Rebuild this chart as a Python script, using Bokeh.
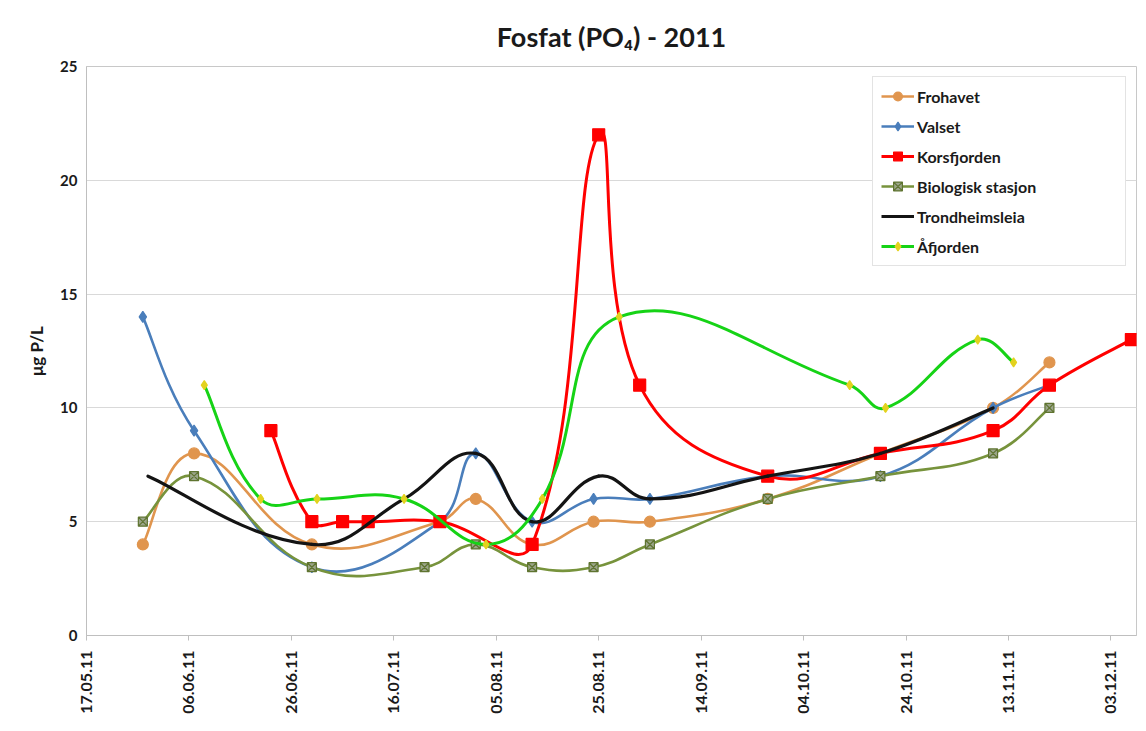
import numpy as np
import pandas as pd
from bokeh.plotting import figure
from bokeh.models import (FixedTicker, DatetimeTickFormatter, Legend, LegendItem,
                          Range1d, ColumnDataSource)
from bokeh.embed import file_html
from bokeh.resources import INLINE

# ---------------- data ----------------
TITLE = "Fosfat (PO₄) - 2011"
Y_LABEL = "μg P/L"
x_tick_dates = ["2011-05-17", "2011-06-06", "2011-06-26", "2011-07-16", "2011-08-05",
                "2011-08-25", "2011-09-14", "2011-10-04", "2011-10-24", "2011-11-13",
                "2011-12-03"]
x_axis_start = "2011-05-17"
x_axis_end = "2011-12-08"
y_ticks = [0, 5, 10, 15, 20, 25]

series_names = ["Frohavet", "Valset", "Korsfjorden", "Biologisk stasjon",
                "Trondheimsleia", "Åfjorden"]

frohavet_dates = ["2011-05-28", "2011-06-07", "2011-06-30", "2011-07-25", "2011-08-01",
                  "2011-08-12", "2011-08-24", "2011-09-04", "2011-09-27", "2011-10-19",
                  "2011-11-10", "2011-11-21"]
frohavet_vals = [4, 8, 4, 5, 6, 4, 5, 5, 6, 8, 10, 12]

valset_dates = ["2011-05-28", "2011-06-07", "2011-06-30", "2011-07-25", "2011-08-01",
                "2011-08-12", "2011-08-24", "2011-09-04", "2011-09-27", "2011-10-19",
                "2011-11-10", "2011-11-21"]
valset_vals = [14, 9, 3, 5, 8, 5, 6, 6, 7, 7, 10, 11]

korsfjorden_dates = ["2011-06-22", "2011-06-30", "2011-07-06", "2011-07-11", "2011-07-25",
                     "2011-08-12", "2011-08-25", "2011-09-02", "2011-09-27", "2011-10-19",
                     "2011-11-10", "2011-11-21", "2011-12-07"]
korsfjorden_vals = [9, 5, 5, 5, 5, 4, 22, 11, 7, 8, 9, 11, 13]

biologisk_dates = ["2011-05-28", "2011-06-07", "2011-06-30", "2011-07-22", "2011-08-01",
                   "2011-08-12", "2011-08-24", "2011-09-04", "2011-09-27", "2011-10-19",
                   "2011-11-10", "2011-11-21"]
biologisk_vals = [5, 7, 3, 3, 4, 3, 3, 4, 6, 7, 8, 10]

trondheimsleia_dates = ["2011-05-29", "2011-06-30", "2011-07-18", "2011-08-01", "2011-08-12",
                        "2011-08-25", "2011-09-04", "2011-09-27", "2011-10-19", "2011-11-10"]
trondheimsleia_vals = [7, 4, 6, 8, 5, 7, 6, 7, 8, 10]

afjorden_dates = ["2011-06-09", "2011-06-20", "2011-07-01", "2011-07-18", "2011-08-03",
                  "2011-08-14", "2011-08-29", "2011-10-13", "2011-10-20", "2011-11-07",
                  "2011-11-14"]
afjorden_vals = [11, 6, 6, 6, 4, 6, 14, 11, 10, 13, 12]

# ---------------- styles ----------------
styles = {
    "Frohavet": dict(line="#E0954E", marker="circle", size=11, fill="#E0954E", mline="#E0954E", lw=2.6),
    "Valset": dict(line="#4A7EBB", marker="diamond", size=11, fill="#4A7EBB", mline="#4A7EBB", lw=2.6),
    "Korsfjorden": dict(line="#FF0000", marker="square", size=12, fill="#FF0000", mline="#FF0000", lw=3),
    "Biologisk stasjon": dict(line="#77933C", marker="square_x", size=9, fill="#9BA58A", mline="#5F7430", lw=2.6),
    "Trondheimsleia": dict(line="#141414", marker=None, size=0, fill=None, mline=None, lw=3.2),
    "Åfjorden": dict(line="#16D316", marker="diamond", size=9, fill="#E3D21E", mline="#E3D21E", lw=3),
}

W, H = 1138, 728
ML, MR, MT, MB = 86, 2, 66, 93
FW, FH = W - ML - MR, H - MT - MB


def ms(d):
    return pd.Timestamp(d).value / 1e6


x0, x1 = ms(x_axis_start), ms(x_axis_end)
y0, y1 = y_ticks[0], y_ticks[-1]
kx = FW / (x1 - x0)
ky = FH / (y1 - y0)


def smooth(xs, ys, t=0.42):
    """Excel-like smoothed line as cubic Bezier segments (control points in data space)."""
    X = np.array(xs) * kx
    Y = np.array(ys, dtype=float) * ky
    n = len(X)
    cin, cout = [], []
    for i in range(n):
        a, b = max(i - 1, 0), min(i + 1, n - 1)
        d01 = np.hypot(X[i] - X[a], Y[i] - Y[a])
        d12 = np.hypot(X[b] - X[i], Y[b] - Y[i])
        dx, dy = X[b] - X[a], Y[b] - Y[a]
        s = d01 + d12
        fa = t * d01 / s if s else 0
        fb = t * d12 / s if s else 0
        if i == 0 or i == n - 1:
            fa, fb = fa / 2, fb / 2
        cin.append((X[i] - fa * dx, Y[i] - fa * dy))
        cout.append((X[i] + fb * dx, Y[i] + fb * dy))
    seg = dict(x0=[], y0=[], x1=[], y1=[], cx0=[], cy0=[], cx1=[], cy1=[])
    for i in range(n - 1):
        seg["x0"].append(xs[i]); seg["y0"].append(ys[i])
        seg["x1"].append(xs[i + 1]); seg["y1"].append(ys[i + 1])
        seg["cx0"].append(cout[i][0] / kx); seg["cy0"].append(cout[i][1] / ky)
        seg["cx1"].append(cin[i + 1][0] / kx); seg["cy1"].append(cin[i + 1][1] / ky)
    return seg


FONT = "Lato"

p = figure(width=W, height=H, output_backend="svg", toolbar_location=None,
           x_axis_type="datetime",
           x_range=Range1d(x0, x1), y_range=Range1d(y0, y1),
           min_border_left=ML, min_border_right=MR, min_border_top=MT, min_border_bottom=MB,
           title=TITLE)
p.background_fill_color = "white"
p.border_fill_color = "white"
p.outline_line_color = "#C8C8C8"
p.outline_line_width = 1

p.title.align = "center"
p.title.text_font = FONT
p.title.text_font_size = "27px"
p.title.text_font_style = "bold"
p.title.text_color = "#1A1A1A"
p.title.standoff = 28

p.xgrid.grid_line_color = None
p.ygrid.grid_line_color = "#D9D9D9"
p.ygrid.grid_line_width = 1
p.yaxis.ticker = FixedTicker(ticks=y_ticks)
p.xaxis.ticker = FixedTicker(ticks=[ms(d) for d in x_tick_dates])
fmt = "%d.%m.%y"
p.xaxis.formatter = DatetimeTickFormatter(milliseconds=fmt, seconds=fmt, minsec=fmt, minutes=fmt,
                                          hourmin=fmt, hours=fmt, days=fmt, months=fmt, years=fmt)
p.xaxis.major_label_orientation = np.pi / 2
for ax in (p.xaxis, p.yaxis):
    ax.axis_line_color = "#BFBFBF"
    ax.major_tick_line_color = "#BFBFBF"
    ax.minor_tick_line_color = None
    ax.major_label_text_font = FONT
    ax.major_label_text_font_style = "bold"
    ax.major_label_text_color = "#1A1A1A"
p.xaxis.major_label_text_font_size = "16px"
p.yaxis.major_label_text_font_size = "15px"
p.xaxis.major_tick_out = 5
p.xaxis.major_tick_in = 0
p.yaxis.major_tick_out = 0
p.yaxis.major_tick_in = 0
p.xaxis.major_label_standoff = 10
p.yaxis.major_label_standoff = 9
p.yaxis.axis_label = Y_LABEL
p.yaxis.axis_label_text_font = FONT
p.yaxis.axis_label_text_font_style = "bold"
p.yaxis.axis_label_text_font_size = "17px"
p.yaxis.axis_label_text_color = "#1A1A1A"
p.yaxis.axis_label_standoff = 10

data = {
    "Frohavet": (frohavet_dates, frohavet_vals),
    "Valset": (valset_dates, valset_vals),
    "Korsfjorden": (korsfjorden_dates, korsfjorden_vals),
    "Biologisk stasjon": (biologisk_dates, biologisk_vals),
    "Trondheimsleia": (trondheimsleia_dates, trondheimsleia_vals),
    "Åfjorden": (afjorden_dates, afjorden_vals),
}

items = []
for name in series_names:
    dates, vals = data[name]
    st = styles[name]
    xs = [ms(d) for d in dates]
    seg = smooth(xs, vals)
    p.bezier(source=ColumnDataSource(seg), x0="x0", y0="y0", x1="x1", y1="y1",
             cx0="cx0", cy0="cy0", cx1="cx1", cy1="cy1",
             line_color=st["line"], line_width=st["lw"], line_cap="round")
    # single-point line: draws nothing on the plot, but gives the legend its line glyph
    leg_line = p.line(x=xs[:1], y=vals[:1], line_color=st["line"], line_width=st["lw"])
    rends = [leg_line]
    if st["marker"]:
        sc = p.scatter(x=xs, y=vals, marker=st["marker"], size=st["size"],
                       fill_color=st["fill"], line_color=st["mline"], line_width=1.2)
        rends.append(sc)
    items.append(LegendItem(label=name, renderers=rends))

legend = Legend(items=items, location="top_right", margin=10, padding=8,
                glyph_width=33, glyph_height=22, spacing=8, label_standoff=3,
                label_width=200,
                label_text_font=FONT, label_text_font_style="bold",
                label_text_font_size="16px", label_text_color="#1A1A1A",
                border_line_color="#C8C8C8", border_line_width=1,
                background_fill_color="white", background_fill_alpha=1)
p.add_layout(legend)

open("out.html", "w").write(file_html(p, INLINE))
